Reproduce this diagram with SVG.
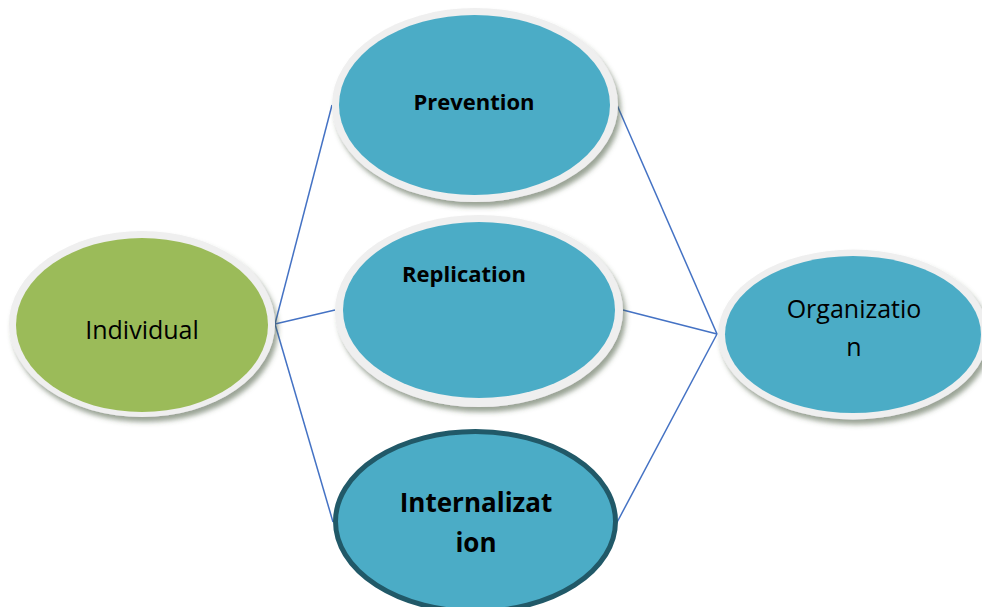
<svg xmlns="http://www.w3.org/2000/svg" width="982" height="607" viewBox="0 0 982 607">
  <defs>
    <filter id="shadow" x="-10%" y="-10%" width="125%" height="130%">
      <feDropShadow dx="3" dy="5" stdDeviation="2.5" flood-color="#4a5a40" flood-opacity="0.55"/>
    </filter>
  </defs>
  <style>
    .rim { fill: #efefef; }
    .teal { fill: #4bacc6; }
    .green { fill: #9bbb59; }
    .link { stroke: #4472c4; stroke-width: 1.5; fill: none; }
    .reg { font-family: "Open Sans", "Liberation Sans", sans-serif; font-size: 25px; fill: #000; text-anchor: middle; }
    .bold { font-family: "Open Sans", "Liberation Sans", sans-serif; font-weight: bold; font-size: 22px; fill: #000; text-anchor: middle; }
    .big { font-family: "Open Sans", "Liberation Sans", sans-serif; font-weight: bold; font-size: 26px; fill: #000; text-anchor: middle; }
  </style>
  <rect width="982" height="607" fill="#ffffff"/>

  <g id="connectors">
    <line class="link" x1="275" y1="324" x2="332" y2="105"/>
    <line class="link" x1="275" y1="324" x2="335" y2="310"/>
    <line class="link" x1="275" y1="324" x2="333" y2="522"/>
    <line class="link" x1="617" y1="105" x2="717" y2="334"/>
    <line class="link" x1="623" y1="310" x2="717" y2="334"/>
    <line class="link" x1="614" y1="528" x2="717" y2="334"/>
  </g>

  <g id="individual">
    <ellipse class="rim" cx="142" cy="324" rx="133" ry="93" filter="url(#shadow)"/>
    <ellipse class="green" cx="142" cy="325" rx="126" ry="87"/>
    <text class="reg" x="142" y="339">Individual</text>
  </g>

  <g id="prevention">
    <ellipse class="rim" cx="475" cy="105" rx="143" ry="97" filter="url(#shadow)"/>
    <ellipse class="teal" cx="474.5" cy="105" rx="135.5" ry="90"/>
    <text class="bold" x="474" y="110">Prevention</text>
  </g>

  <g id="replication">
    <ellipse class="rim" cx="479" cy="311" rx="144" ry="96" filter="url(#shadow)"/>
    <ellipse class="teal" cx="479" cy="310" rx="136" ry="88"/>
    <text class="bold" x="464" y="282">Replication</text>
  </g>

  <g id="internalization">
    <ellipse class="teal" cx="475.5" cy="521.5" rx="140" ry="90" stroke="#215968" stroke-width="5"/>
    <text class="big" x="476" y="512">Internalizat</text>
    <text class="big" x="476" y="552">ion</text>
  </g>

  <g id="organization">
    <ellipse class="rim" cx="853" cy="334.5" rx="135" ry="85" filter="url(#shadow)"/>
    <ellipse class="teal" cx="853" cy="334.5" rx="128" ry="78.5"/>
    <text class="reg" x="854" y="318">Organizatio</text>
    <text class="reg" x="854" y="356">n</text>
  </g>
</svg>
